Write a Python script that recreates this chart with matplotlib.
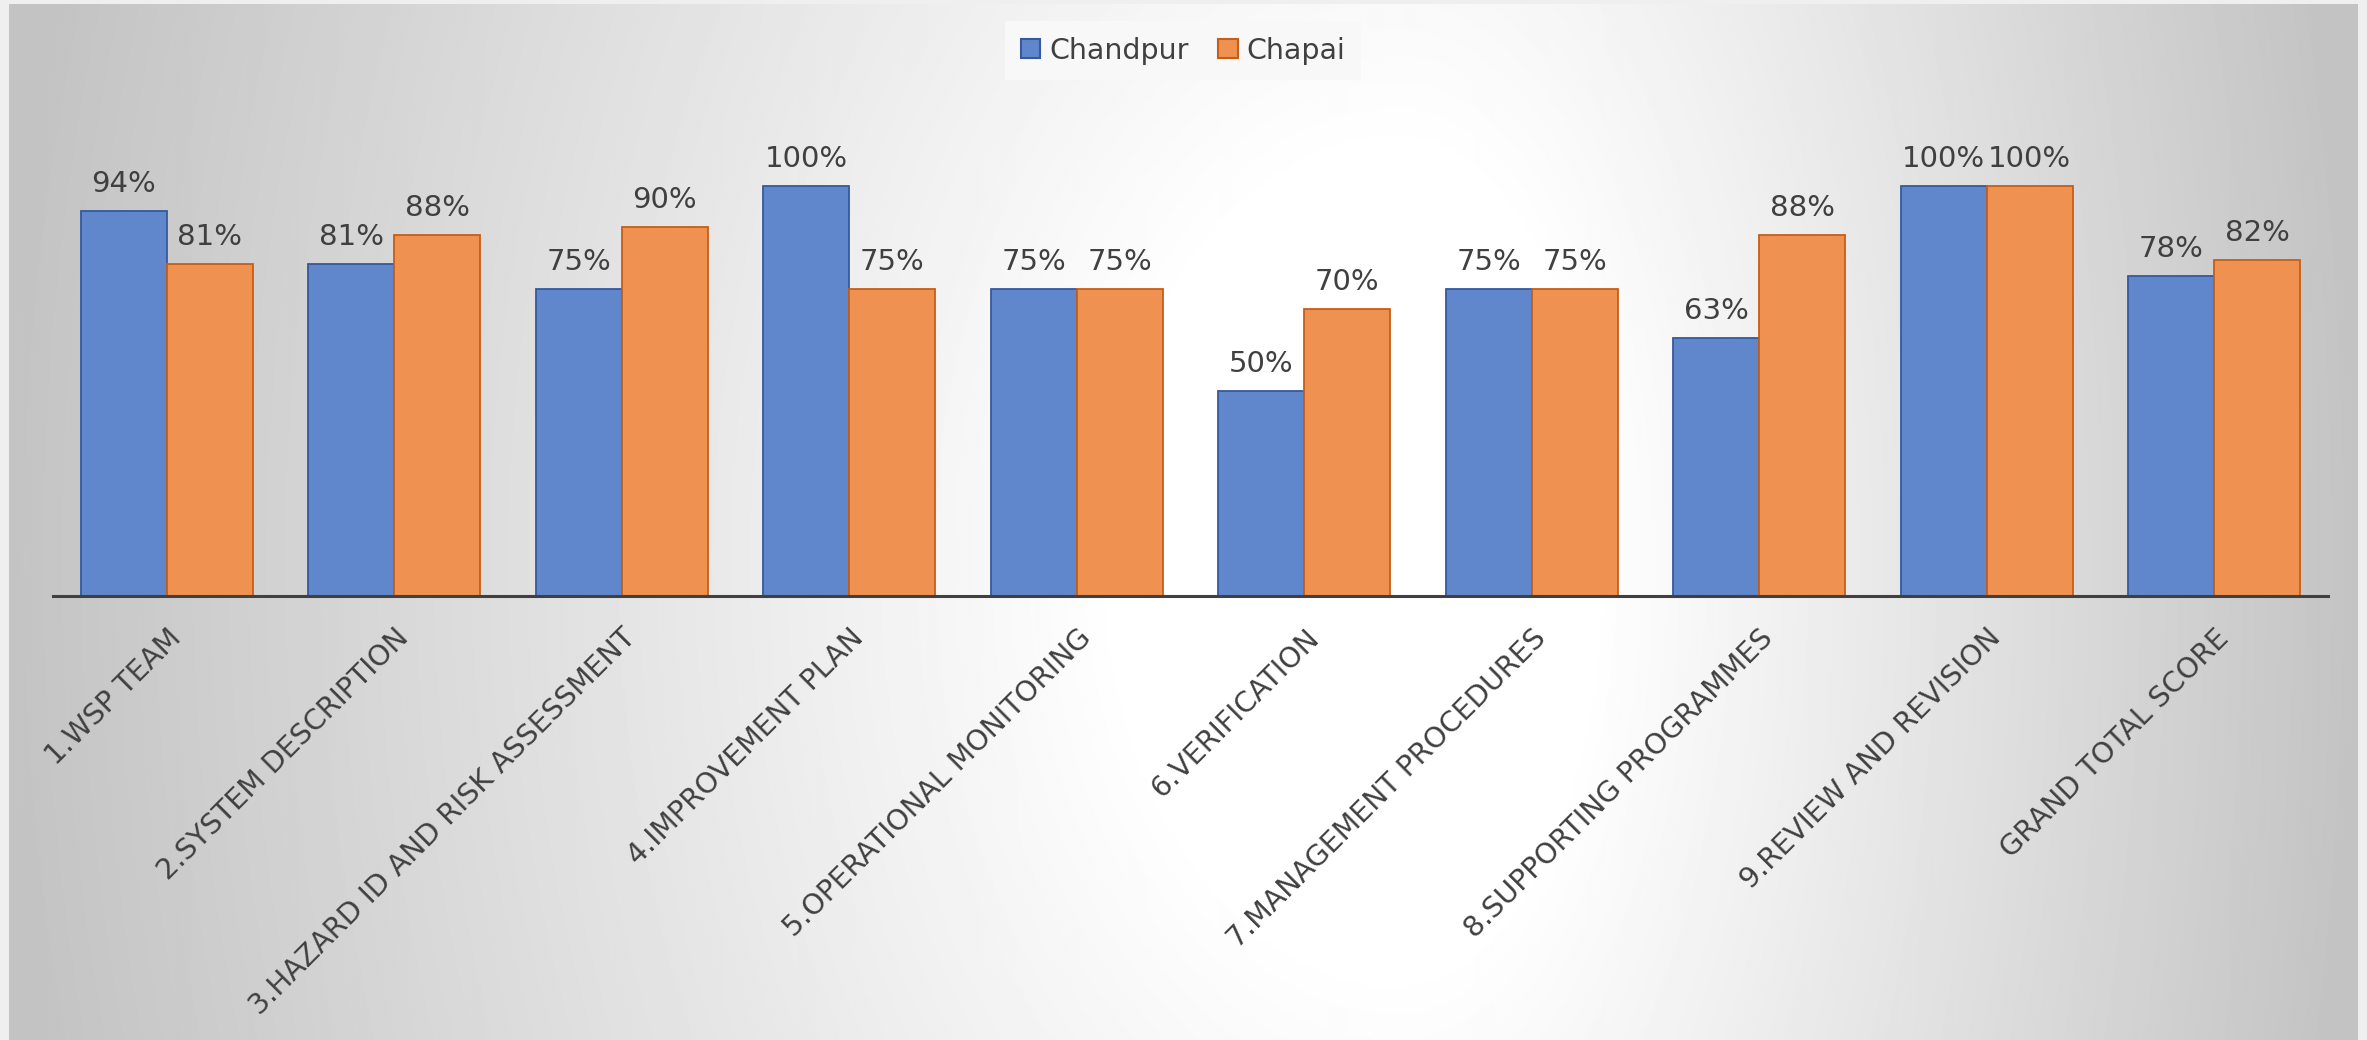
import numpy as np
import matplotlib
matplotlib.use("Agg")
import matplotlib.pyplot as plt
from matplotlib.patches import Patch

# ---- data ----
categories = ["1.WSP TEAM", "2.SYSTEM DESCRIPTION", "3.HAZARD ID AND RISK ASSESSMENT",
              "4.IMPROVEMENT PLAN", "5.OPERATIONAL MONITORING", "6.VERIFICATION",
              "7.MANAGEMENT PROCEDURES", "8.SUPPORTING PROGRAMMES",
              "9.REVIEW AND REVISION", "GRAND TOTAL SCORE"]
chandpur = [94, 81, 75, 100, 75, 50, 75, 63, 100, 78]
chapai = [81, 88, 90, 75, 75, 70, 75, 88, 100, 82]
series_names = ["Chandpur", "Chapai"]

W, H = 2367, 1040
DPI = 100
fig = plt.figure(figsize=(W / DPI, H / DPI), dpi=DPI)
fig.patch.set_facecolor("#efefef")

# ---- chart-area background (radial gradient) ----
cx0, cy0, cx1, cy1 = 9, 4, 2358, 1040  # pixel rect (y from top)
bg = fig.add_axes([cx0 / W, 1 - cy1 / H, (cx1 - cx0) / W, (cy1 - cy0) / H], zorder=-5)
yy, xx = np.mgrid[cy0:cy1:2, cx0:cx1:2]
gx = 1400.0
rx = np.where(xx < gx, 1400.0, 960.0)
d = np.sqrt(((xx - gx) / rx) ** 2 + ((yy - 560) / 2000.0) ** 2)
t = np.clip((d - 0.2) / 0.8, 0, 1)
val = (255 - 60 * t) / 255.0
bg.imshow(val, cmap="gray", vmin=0, vmax=1, aspect="auto", interpolation="bilinear")
bg.set_axis_off()

# ---- main axes ----
left, right = 53, 2328
base_y = 596
ymax = 110
px_per_unit = 410 / 100.0
top_y = base_y - ymax * px_per_unit
ax = fig.add_axes([left / W, 1 - base_y / H, (right - left) / W, (base_y - top_y) / H])
ax.set_facecolor("none")

x = np.arange(len(categories))
w = 0.379
blue_fill, blue_edge = "#6087CB", "#35599C"
orange_fill, orange_edge = "#EE9151", "#C55E18"
b1 = ax.bar(x - w / 2, chandpur, w, color=blue_fill, edgecolor=blue_edge, linewidth=1.3, zorder=2)
b2 = ax.bar(x + w / 2, chapai, w, color=orange_fill, edgecolor=orange_edge, linewidth=1.3, zorder=2)

txt_color = "#404040"
for bars, vals in ((b1, chandpur), (b2, chapai)):
    for rect, v in zip(bars, vals):
        ax.annotate(f"{v}%", (rect.get_x() + rect.get_width() / 2, v),
                    xytext=(0, 13.5), textcoords="offset points",
                    ha="center", va="baseline", fontsize=21, color=txt_color)

ax.set_xlim(-0.5, len(categories) - 0.5)
ax.set_ylim(0, ymax)
ax.set_yticks([])
for s in ("top", "right", "left"):
    ax.spines[s].set_visible(False)
ax.spines["bottom"].set_color("#404040")
ax.spines["bottom"].set_linewidth(2.2)
ax.spines["bottom"].set_zorder(3)

ax.set_xticks(x)
ax.set_xticklabels(categories, rotation=45, ha="right", va="top",
                   rotation_mode="anchor", fontsize=20.5, color=txt_color)
ax.tick_params(axis="x", length=0, pad=20)

# ---- legend ----
handles = [Patch(facecolor=blue_fill, edgecolor=blue_edge, linewidth=1.5),
           Patch(facecolor=orange_fill, edgecolor=orange_edge, linewidth=1.5)]
leg = fig.legend(handles, series_names, loc="upper center", bbox_to_anchor=(0.4998, 1 - 21 / H),
                 ncol=2, fontsize=20.5, frameon=True, fancybox=False, borderaxespad=0,
                 handlelength=0.68, handleheight=0.68, handletextpad=0.3,
                 columnspacing=1.05, borderpad=0.55)
leg.get_frame().set_facecolor("#f8f8f8")
leg.get_frame().set_edgecolor("none")
leg.get_frame().set_alpha(1)
for t_ in leg.get_texts():
    t_.set_color(txt_color)

fig.savefig("out.png", dpi=DPI, facecolor=fig.get_facecolor())
